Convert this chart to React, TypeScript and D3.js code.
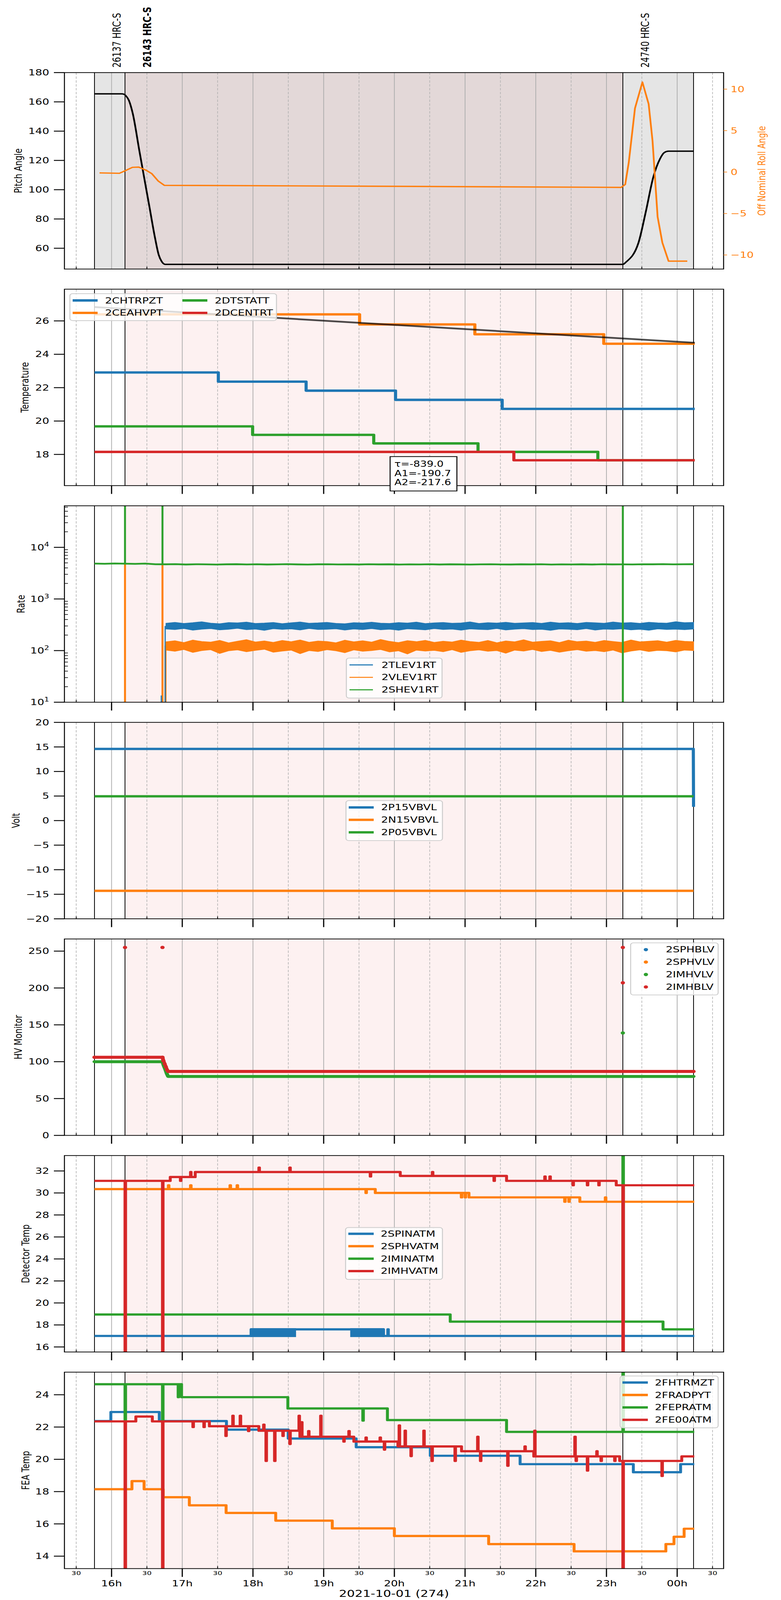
import * as d3 from "d3";

type Pt = [number, number];

// time values are minutes after 2021-10-01 00:00 (1440 = next midnight)
const xStart = 920;
const xEnd = 1479.4;
const obsStarts = [945.5, 971.4, 1393.9];
const obsEnd = 1453.9;
const obsNames = ["26137 HRC-S", "26143 HRC-S", "24740 HRC-S"];
const obsBold = [false, true, false];

// panel 1: pitch and off nominal roll
const pitch: Pt[] = [
  [945.5, 165.5], [968.7, 165.5], [970.5, 165.2], [972.0, 164.3], [974.7, 161], [978.0, 152],
  [983.6, 126.5], [992.2, 88], [996.9, 67], [1000.0, 55.5], [1002.5, 51], [1005.5, 49],
  [1393.9, 49], [1396.5, 50.5], [1407.1, 63.6], [1413.4, 85], [1419.7, 108.5], [1425.4, 121],
  [1429.0, 125.3], [1432.7, 126.3], [1453.9, 126.3],
];
const roll: Pt[] = [
  [949.8, -0.1], [966.7, -0.15], [971.4, 0.15], [977.7, 0.57], [983.0, 0.6], [988.9, 0.25],
  [994.2, -0.2], [999.5, -1.07], [1004.8, -1.6], [1200, -1.72], [1392.5, -1.85], [1395.9, -1.5],
  [1398.9, 1.14], [1404.2, 7.7], [1410.5, 10.85], [1415.8, 8.2], [1419.1, 3.75], [1423.4, -5.4],
  [1427.4, -8.5], [1432.7, -10.75], [1448.6, -10.75],
];

// panel 2: temperatures
const tempNames = ["2CHTRPZT", "2CEAHVPT", "2DTSTATT", "2DCENTRT"];
const tempBlue: Pt[] = [[945.5, 22.91], [1050.6, 22.36], [1125.1, 21.82], [1201.0, 21.27], [1291.5, 20.73]];
const tempOrange: Pt[] = [[945.5, 26.39], [1170.5, 25.79], [1268.3, 25.2], [1377.7, 24.63]];
const tempGreen: Pt[] = [[945.5, 19.68], [1079.7, 19.17], [1182.5, 18.66], [1271.0, 18.15], [1372.7, 17.65]];
const tempRed: Pt[] = [[945.5, 18.15], [1301.4, 17.65]];
const tempFit: Pt[] = [[945.5, 26.83], [1454.9, 24.69]];
const fitText = ["τ=-839.0", "A1=-190.7", "A2=-217.6"];

// panel 3: rates
const rateNames = ["2TLEV1RT", "2VLEV1RT", "2SHEV1RT"];
const rateBandStart = 1006.2;
const blueHi = [338, 352, 335, 347, 362, 340, 331, 349, 344, 356, 336, 341, 350, 333, 346, 358, 339, 344, 352, 337, 331, 348, 343, 355, 340, 336, 349, 342, 357, 334, 345, 351, 338, 343, 360, 336, 347, 341, 353, 339, 344, 350, 337, 356, 341, 348, 335, 352, 346, 339, 358, 343, 349, 337, 354, 345, 340, 363, 347, 352];
const blueLo = [262, 255, 268, 249, 260, 266, 252, 258, 270, 254, 261, 247, 265, 257, 263, 251, 268, 256, 259, 264, 250, 262, 255, 267, 253, 260, 248, 264, 258, 252, 266, 256, 261, 249, 263, 257, 254, 268, 251, 260, 265, 255, 258, 247, 262, 259, 253, 266, 250, 261, 257, 264, 252, 259, 248, 263, 256, 260, 254, 262];
const orangeHi = [148, 155, 143, 160, 150, 146, 158, 141, 152, 163, 147, 154, 144, 157, 149, 161, 145, 153, 150, 142, 159, 148, 155, 146, 164, 151, 143, 156, 149, 158, 144, 152, 147, 160, 150, 145, 157, 142, 154, 148, 162, 146, 151, 155, 143, 159, 149, 153, 145, 157, 150, 144, 161, 148, 152, 156, 146, 158, 151, 149];
const orangeLo = [102, 97, 105, 92, 100, 104, 88, 99, 103, 95, 101, 106, 93, 98, 102, 87, 100, 96, 104, 99, 91, 103, 97, 100, 105, 94, 99, 86, 102, 98, 101, 95, 104, 92, 99, 103, 97, 100, 89, 102, 98, 105, 96, 101, 93, 99, 104, 97, 100, 95, 102, 90, 98, 103, 96, 101, 99, 94, 102, 100];
const greenRate = [4850, 4800, 4870, 4820, 4790, 4840, 4700, 4690, 4720, 4650, 4700, 4680, 4640, 4690, 4710, 4660, 4700, 4650, 4680, 4720, 4670, 4640, 4690, 4700, 4660, 4680, 4650, 4700, 4670, 4690, 4640, 4680, 4660, 4700, 4650, 4690, 4670, 4640, 4680, 4700, 4660, 4650, 4690, 4670, 4700, 4640, 4680, 4660, 4690, 4650, 4700, 4670, 4680, 4660, 4700, 4690, 4720, 4680, 4700, 4710];
// vertical excursions: [time, from, to]
const greenRateSpikes = [[971.4, 4700, 1e6], [1003.2, 4700, 1e6], [1393.9, 1, 1e6]];
const orangeRateDrops = [[971.4, 4700, 1], [1003.2, 4700, 1], [1005.8, 1, 125]];
const blueRateRise = [[1002.2, 1, 13.5], [1005.5, 1, 300]];

// panel 4: volts
const voltNames = ["2P15VBVL", "2N15VBVL", "2P05VBVL"];
const voltP15: Pt[] = [[945.5, 14.6], [1453.7, 14.6], [1453.9, 2.8]];
const voltN15: Pt[] = [[945.5, -14.3], [1453.9, -14.3]];
const voltP05: Pt[] = [[945.5, 4.95], [1453.9, 4.95]];

// panel 5: HV monitor
const hvNames = ["2SPHBLV", "2SPHVLV", "2IMHVLV", "2IMHBLV"];
const hvRed: Pt[] = [[945.5, 106], [1003.2, 106], [1004.0, 101], [1005.0, 97], [1006.0, 93], [1007.0, 89], [1008.0, 86.8], [1453.9, 86.8]];
const hvGreen: Pt[] = [[945.5, 100], [1003.2, 100], [1004.2, 95], [1005.5, 90], [1006.8, 84], [1008.0, 80], [1453.9, 80]];
const hvRedDots: Pt[] = [[971.4, 255], [1003.2, 255], [1393.9, 255], [1393.9, 207]];
const hvGreenDots: Pt[] = [[1393.9, 139]];

// panel 6: detector temps (levels + short excursions)
const detNames = ["2SPINATM", "2SPHVATM", "2IMINATM", "2IMHVATM"];
const detBlueLevels: Pt[] = [[945.5, 17.0], [1078.4, 17.6], [1190.8, 17.0]];
const detBlueSpikes: Pt[] = [[1194.4, 17.6]];
const detBlueBlocks = [[1078.4, 1115.9], [1163.2, 1190.8]];
const detOrangeLevels: Pt[] = [[945.5, 30.35], [1183.8, 30.0], [1263.3, 29.6], [1357.4, 29.2]];
const detOrangeSpikes: Pt[] = [[1008.2, 30.7], [1027.0, 30.7], [1060.5, 30.7], [1066.5, 30.7], [1175.8, 30.0], [1256.8, 29.6], [1260.0, 29.6], [1344.5, 29.2], [1348.0, 29.2], [1379.0, 29.6]];
const detGreenLevels: Pt[] = [[945.5, 18.95], [1247.4, 18.3], [1428.0, 17.6]];
const detGreenSpikes: Pt[] = [[1393.9, 40]];
const detRedLevels: Pt[] = [[945.5, 31.1], [1009.8, 31.45], [1031.0, 31.9], [1205.0, 31.55], [1295.2, 31.1], [1388.3, 30.7]];
const detRedSpikes: Pt[] = [[971.4, 0], [1003.2, 0], [1018.4, 31.1], [1027.0, 31.9], [1085.0, 32.3], [1111.2, 32.3], [1179.5, 31.5], [1232.2, 31.9], [1284.5, 31.1], [1327.6, 31.5], [1331.9, 31.5], [1351.5, 30.7], [1363.7, 30.7], [1373.4, 30.7], [1393.9, 0]];

// panel 7: FEA temps
const feaNames = ["2FHTRMZT", "2FRADPYT", "2FEPRATM", "2FE00ATM"];
const feaBlueLevels: Pt[] = [[945.5, 22.37], [959.4, 22.93], [1000.5, 22.37], [1057.5, 21.84], [1109.9, 21.29], [1167.6, 20.75], [1230.5, 20.22], [1306.7, 19.7], [1402.8, 19.2], [1442.9, 19.7]];
const feaOrangeLevels: Pt[] = [[945.5, 18.15], [977.3, 18.65], [987.6, 18.15], [1003.8, 17.65], [1026.0, 17.15], [1057.2, 16.68], [1099.3, 16.2], [1147.3, 15.72], [1200.0, 15.25], [1280.0, 14.75], [1352.5, 14.3], [1430.4, 14.75], [1437.3, 15.2], [1445.9, 15.7]];
const feaGreenLevels: Pt[] = [[945.5, 24.65], [1019.4, 23.85], [1109.6, 23.15], [1194.1, 22.43], [1295.2, 21.7]];
const feaGreenSpikes: Pt[] = [[971.4, 22.3], [1003.2, 22.3], [1016.5, 23.85], [1173.2, 22.4], [1393.9, 40]];
const feaRedLevels: Pt[] = [[945.5, 22.35], [980.6, 22.65], [994.6, 22.35], [1043.0, 22.05], [1085.0, 21.77], [1119.8, 21.4], [1165.6, 21.1], [1203.0, 20.8], [1257.0, 20.5], [1318.3, 20.18], [1391.2, 19.9], [1443.9, 20.18]];
const feaRedSpikes: Pt[] = [[971.4, 0], [1003.2, 0], [1029.0, 22.0], [1038.3, 22.0], [1056.9, 21.45], [1062.8, 22.7], [1069.1, 22.7], [1076.1, 21.75], [1089.0, 22.15], [1091.0, 19.9], [1098.3, 19.9], [1105.3, 21.45], [1111.2, 20.95], [1119.0, 22.7], [1121.2, 22.3], [1127.1, 21.75], [1137.4, 22.7], [1157.0, 21.1], [1161.3, 21.75], [1175.8, 21.35], [1187.8, 21.35], [1191.4, 20.6], [1204.0, 22.1], [1209.0, 21.77], [1214.0, 20.2], [1224.9, 21.77], [1231.8, 19.9], [1251.4, 19.9], [1270.6, 21.4], [1273.0, 19.9], [1296.1, 19.6], [1310.7, 20.8], [1319.0, 21.77], [1353.1, 21.4], [1354.1, 19.9], [1363.7, 19.3], [1371.7, 20.5], [1375.3, 19.9], [1386.9, 19.9], [1393.9, 0], [1427.0, 18.97]];

const xLabel = "2021-10-01 (274)";

// ---------- layout ----------
const L = 165;
const R = 1853;
const PH = 663;
const top = (i: number) => 245 + 731 * i;
const bot = (i: number) => top(i) + PH;
const C = { blue: "#1f77b4", orange: "#ff7f0e", green: "#2ca02c", red: "#d62728" };

const at = (m: number) => new Date(2021, 9, 1, 0, 0, 0, Math.round(m * 60000));
const x = d3.scaleTime().domain([at(xStart), at(xEnd)]).range([L, R]);
const px = (m: number) => x(at(m));
const hours = d3.timeHour.every(1)!.range(at(xStart), at(xEnd));
const halves = d3.timeMinute.every(30)!.range(at(xStart), at(xEnd)).filter((d) => d.getMinutes() === 30);

const fmt = (v: number) => (v < 0 ? "\u2212" + Math.abs(v) : String(v));

function withSpikes(levels: Pt[], spikes: Pt[], end: number): Pt[] {
  const base = (t: number) => {
    let v = levels[0][1];
    levels.forEach(([lt, lv]) => {
      if (lt <= t) v = lv;
    });
    return v;
  };
  const pts: Pt[] = levels.slice();
  spikes.forEach(([t, v]) => {
    pts.push([t, v]);
    pts.push([t + 0.5, base(t + 0.5)]);
  });
  pts.sort((a, b) => a[0] - b[0]);
  pts.push([end, base(end)]);
  return pts;
}

const linePath = (y: any, pts: Pt[], curve: any = d3.curveLinear) =>
  d3.line<Pt>().x((d) => px(d[0])).y((d) => y(d[1])).curve(curve)(pts) || "";

function Back({ i, gray }: { i: number; gray?: boolean }) {
  const t = top(i);
  return (
    <g>
      {gray ? (
        <>
          <rect x={px(obsStarts[0])} y={t} width={px(obsEnd) - px(obsStarts[0])} height={PH} fill="#e5e5e5" />
          <rect x={px(obsStarts[1])} y={t} width={px(obsStarts[2]) - px(obsStarts[1])} height={PH} fill="#e3d8d8" />
        </>
      ) : (
        <rect x={px(obsStarts[1])} y={t} width={px(obsStarts[2]) - px(obsStarts[1])} height={PH} fill="#fdf1f1" />
      )}
      {hours.map((h, k) => (
        <line key={"h" + k} x1={x(h)} x2={x(h)} y1={t} y2={t + PH} stroke="#b0b0b0" strokeWidth={2} />
      ))}
      {halves.map((h, k) => (
        <line key={"m" + k} x1={x(h)} x2={x(h)} y1={t} y2={t + PH} stroke="#b0b0b0" strokeWidth={1.6} strokeDasharray="8,5" />
      ))}
      {[...obsStarts, obsEnd].map((m, k) => (
        <line key={"o" + k} x1={px(m)} x2={px(m)} y1={t} y2={t + PH} stroke="black" strokeWidth={2} />
      ))}
    </g>
  );
}

function Axes(props: { i: number; y: any; ticks: number[]; label: string; labelX: number; major?: boolean; log?: boolean }) {
  const { i, y, ticks, label, labelX, major = true, log = false } = props;
  const t = top(i);
  const b = bot(i);
  const minorY = log ? y.ticks().filter((v: number) => Math.abs(Math.log10(v) - Math.round(Math.log10(v))) > 1e-6) : [];
  return (
    <g>
      <rect x={L} y={t} width={R - L} height={PH} fill="none" stroke="black" strokeWidth={2.5} />
      {ticks.map((v) => (
        <g key={v}>
          <line x1={L - 27} x2={L} y1={y(v)} y2={y(v)} stroke="black" strokeWidth={3} />
          {log ? (
            <text x={L - 39} y={y(v)} dy="0.35em" textAnchor="end" fontSize={28}>
              10<tspan dy="-12" fontSize={20}>{Math.round(Math.log10(v))}</tspan>
            </text>
          ) : (
            <text x={L - 39} y={y(v)} dy="0.35em" textAnchor="end" fontSize={28}>
              {fmt(v)}
            </text>
          )}
        </g>
      ))}
      {minorY.map((v: number, k: number) => (
        <line key={"n" + k} x1={L} x2={L + 9} y1={y(v)} y2={y(v)} stroke="black" strokeWidth={2} />
      ))}
      <text transform={`translate(${labelX},${(t + b) / 2}) rotate(-90)`} textAnchor="middle" dy="0.35em" fontSize={27}>
        {label}
      </text>
      {halves.map((h, k) => (
        <line key={"m" + k} x1={x(h)} x2={x(h)} y1={b} y2={b - 8} stroke="black" strokeWidth={2} />
      ))}
      {major &&
        hours.map((h, k) => <line key={"h" + k} x1={x(h)} x2={x(h)} y1={b} y2={b + 28} stroke="black" strokeWidth={3} />)}
    </g>
  );
}

type LegItem = { name: string; color: string; hx: number; ry: number };
function Legend(props: { x: number; y: number; w: number; h: number; items: LegItem[]; hlen: number; tgap: number; lw: number; dot?: boolean }) {
  const { items, hlen, tgap, lw, dot } = props;
  return (
    <g>
      <rect x={props.x} y={props.y} width={props.w} height={props.h} rx={7} fill="white" fillOpacity={0.8} stroke="#cccccc" strokeWidth={2.5} />
      {items.map((it) => (
        <g key={it.name}>
          {dot ? (
            <circle cx={it.hx + hlen / 2} cy={it.ry} r={5.5} fill={it.color} />
          ) : (
            <line x1={it.hx} x2={it.hx + hlen} y1={it.ry} y2={it.ry} stroke={it.color} strokeWidth={lw} />
          )}
          <text x={it.hx + hlen + tgap} y={it.ry} dy="0.35em" fontSize={28}>
            {it.name}
          </text>
        </g>
      ))}
    </g>
  );
}

function Series({ i, y, pts, color, w, curve }: { i: number; y: any; pts: Pt[]; color: string; w: number; curve?: any }) {
  return (
    <path d={linePath(y, pts, curve)} fill="none" stroke={color} strokeWidth={w} strokeLinejoin="round" clipPath={`url(#clip${i})`} />
  );
}

export default function App() {
  // scales per panel
  const y1 = d3.scaleLinear().domain([45.8, 180]).range([bot(0), top(0)]);
  const r1 = d3.scaleLinear().domain([-11.7, 12.0]).range([bot(0), top(0)]);
  const y2 = d3.scaleLinear().domain([16.13, 27.9]).range([bot(1), top(1)]);
  const y3 = d3.scaleLog().domain([10, 63800]).range([bot(2), top(2)]);
  const y4 = d3.scaleLinear().domain([-20, 20]).range([bot(3), top(3)]);
  const y5 = d3.scaleLinear().domain([0, 266.5]).range([bot(4), top(4)]);
  const y6 = d3.scaleLinear().domain([15.54, 33.4]).range([bot(5), top(5)]);
  const y7 = d3.scaleLinear().domain([13.23, 25.4]).range([bot(6), top(6)]);

  const bandT = (k: number, n: number) => rateBandStart + (k * (obsEnd - rateBandStart)) / (n - 1);
  const greenT = (k: number, n: number) => obsStarts[0] + (k * (obsEnd - obsStarts[0])) / (n - 1);
  const band = (hi: number[], lo: number[]) =>
    d3
      .area<number>()
      .x((_, k) => px(bandT(k, hi.length)))
      .y0((_, k) => y3(lo[k]))
      .y1((d) => y3(d))(hi) || "";
  const greenPts: Pt[] = greenRate.map((v, k) => [greenT(k, greenRate.length), v]);
  const step = d3.curveStepAfter;
  const detEnd = 1454.5;

  // the browser viewport is shorter than the figure, so the 2000x5400 drawing is fitted to it
  return (
    <>
      <style>{"html,body{margin:0;padding:0;background:white;overflow:hidden}"}</style>
      <svg
        viewBox="0 0 2000 5400"
        preserveAspectRatio="none"
        style={{ display: "block", width: "100vw", height: "100vh" }}
        fontFamily="DejaVu Sans, sans-serif"
      >
        <rect width={2000} height={5400} fill="white" />
        <defs>
          {[0, 1, 2, 3, 4, 5, 6].map((i) => (
            <clipPath key={i} id={`clip${i}`}>
              <rect x={L} y={top(i)} width={R - L} height={PH} />
            </clipPath>
          ))}
        </defs>

        {/* ---- panel 1 ---- */}
        <Back i={0} gray />
        <Series i={0} y={y1} pts={pitch} color="black" w={4.5} curve={d3.curveMonotoneX} />
        <Series i={0} y={r1} pts={roll} color={C.orange} w={4.5} />
        {obsStarts.map((m, k) => (
          <text key={k} transform={`translate(${px(m) + 57},228) rotate(-90)`} dominantBaseline="central" fontSize={28} fontWeight={obsBold[k] ? "bold" : "normal"}>
            {obsNames[k]}
          </text>
        ))}
        <Axes i={0} y={y1} ticks={[60, 80, 100, 120, 140, 160, 180]} label="Pitch Angle" labelX={47} major={false} />
        {[-10, -5, 0, 5, 10].map((v) => (
          <g key={v}>
            <line x1={R} x2={R + 9} y1={r1(v)} y2={r1(v)} stroke={C.orange} strokeWidth={2} />
            <text x={R + 18} y={r1(v)} dy="0.35em" fontSize={28} fill={C.orange}>
              {fmt(v)}
            </text>
          </g>
        ))}
        <text transform={`translate(1951,${(top(0) + bot(0)) / 2}) rotate(-90)`} textAnchor="middle" dy="0.35em" fontSize={27} fill={C.orange}>
          Off Nominal Roll Angle
        </text>

        {/* ---- panel 2 ---- */}
        <Back i={1} />
        <Series i={1} y={y2} pts={[...tempBlue, [1454.9, tempBlue[tempBlue.length - 1][1]]]} color={C.blue} w={8} curve={step} />
        <Series i={1} y={y2} pts={[...tempOrange, [1454.9, tempOrange[tempOrange.length - 1][1]]]} color={C.orange} w={8} curve={step} />
        <Series i={1} y={y2} pts={[...tempGreen, [1454.9, tempGreen[tempGreen.length - 1][1]]]} color={C.green} w={8} curve={step} />
        <Series i={1} y={y2} pts={[...tempRed, [1454.9, tempRed[tempRed.length - 1][1]]]} color={C.red} w={8} curve={step} />
        <path d={linePath(y2, tempFit)} stroke="black" strokeOpacity={0.7} strokeWidth={6} fill="none" />
        <Legend
          x={179} y={991} w={529} h={91} hlen={64} tgap={19} lw={8}
          items={[
            { name: tempNames[0], color: C.blue, hx: 186, ry: 1014 },
            { name: tempNames[1], color: C.orange, hx: 186, ry: 1056 },
            { name: tempNames[2], color: C.green, hx: 467, ry: 1014 },
            { name: tempNames[3], color: C.red, hx: 467, ry: 1056 },
          ]}
        />
        <Axes i={1} y={y2} ticks={[18, 20, 22, 24, 26]} label="Temperature" labelX={64} />
        <rect x={999} y={1541} width={171} height={116} fill="white" stroke="black" strokeWidth={2.5} />
        {fitText.map((s, k) => (
          <text key={k} x={1010} y={1566 + 31 * k} dy="0.35em" fontSize={27}>
            {s}
          </text>
        ))}

        {/* ---- panel 3 ---- */}
        <Back i={2} />
        <g clipPath="url(#clip2)">
          {orangeRateDrops.map(([t, a, b], k) => (
            <line key={"od" + k} x1={px(t)} x2={px(t)} y1={y3(a)} y2={y3(b)} stroke={C.orange} strokeWidth={5} />
          ))}
          {blueRateRise.map(([t, a, b], k) => (
            <line key={"br" + k} x1={px(t)} x2={px(t)} y1={y3(a)} y2={y3(b)} stroke={C.blue} strokeWidth={3} />
          ))}
          <path d={band(blueHi, blueLo)} fill={C.blue} stroke={C.blue} strokeWidth={2} />
          <path d={band(orangeHi, orangeLo)} fill={C.orange} stroke={C.orange} strokeWidth={2} />
          <path d={linePath(y3, greenPts)} fill="none" stroke={C.green} strokeWidth={6} />
          {greenRateSpikes.map(([t, a, b], k) => (
            <line key={"gs" + k} x1={px(t)} x2={px(t)} y1={y3(a)} y2={y3(b)} stroke={C.green} strokeWidth={5} />
          ))}
        </g>
        <Legend
          x={887} y={2221} w={245} h={135} hlen={60} tgap={22} lw={3.5}
          items={rateNames.map((n, k) => ({ name: n, color: [C.blue, C.orange, C.green][k], hx: 895, ry: 2244 + 42 * k }))}
        />
        <Axes i={2} y={y3} ticks={[10, 100, 1000, 10000]} label="Rate" labelX={54} log />

        {/* ---- panel 4 ---- */}
        <Back i={3} />
        <Series i={3} y={y4} pts={voltP15} color={C.blue} w={8} />
        <Series i={3} y={y4} pts={voltN15} color={C.orange} w={8} />
        <Series i={3} y={y4} pts={voltP05} color={C.green} w={8} />
        <Legend
          x={886} y={2702} w={247} h={135} hlen={64} tgap={19} lw={8}
          items={voltNames.map((n, k) => ({ name: n, color: [C.blue, C.orange, C.green][k], hx: 893, ry: 2725 + 42 * k }))}
        />
        <Axes i={3} y={y4} ticks={[-20, -15, -10, -5, 0, 5, 10, 15, 20]} label="Volt" labelX={41} />

        {/* ---- panel 5 ---- */}
        <Back i={4} />
        <g clipPath="url(#clip4)">
          <path d={linePath(y5, hvRed)} fill="none" stroke={C.red} strokeWidth={10} strokeLinecap="round" strokeLinejoin="round" />
          <path d={linePath(y5, hvGreen)} fill="none" stroke={C.green} strokeWidth={10} strokeLinecap="round" strokeLinejoin="round" />
          {hvRed.map((d, k) => (
            <circle key={"r" + k} cx={px(d[0])} cy={y5(d[1])} r={5.5} fill={C.red} />
          ))}
          {hvRedDots.map((d, k) => (
            <circle key={"rd" + k} cx={px(d[0])} cy={y5(d[1])} r={5.5} fill={C.red} />
          ))}
          {hvGreenDots.map((d, k) => (
            <circle key={"gd" + k} cx={px(d[0])} cy={y5(d[1])} r={5.5} fill={C.green} />
          ))}
        </g>
        <Legend
          x={1615} y={3182} w={224} h={176} hlen={64} tgap={19} lw={0} dot
          items={hvNames.map((n, k) => ({ name: n, color: [C.blue, C.orange, C.green, C.red][k], hx: 1622, ry: 3205 + 42 * k }))}
        />
        <Axes i={4} y={y5} ticks={[0, 50, 100, 150, 200, 250]} label="HV Monitor" labelX={47} />

        {/* ---- panel 6 ---- */}
        <Back i={5} />
        <Series i={5} y={y6} pts={withSpikes(detBlueLevels, detBlueSpikes, detEnd)} color={C.blue} w={7.5} curve={step} />
        {detBlueBlocks.map(([a, b], k) => (
          <rect key={k} x={px(a) - 2} y={y6(17.6) - 3.75} width={px(b) - px(a) + 4} height={y6(17.0) - y6(17.6) + 7.5} fill={C.blue} />
        ))}
        <Series i={5} y={y6} pts={withSpikes(detOrangeLevels, detOrangeSpikes, detEnd)} color={C.orange} w={7.5} curve={step} />
        <Series i={5} y={y6} pts={withSpikes(detGreenLevels, detGreenSpikes, detEnd)} color={C.green} w={7.5} curve={step} />
        <Series i={5} y={y6} pts={withSpikes(detRedLevels, detRedSpikes, detEnd)} color={C.red} w={7.5} curve={step} />
        <Legend
          x={885} y={4143} w={248} h={175} hlen={65} tgap={18} lw={8}
          items={detNames.map((n, k) => ({ name: n, color: [C.blue, C.orange, C.green, C.red][k], hx: 892, ry: 4164 + 42 * k }))}
        />
        <Axes i={5} y={y6} ticks={[16, 18, 20, 22, 24, 26, 28, 30, 32]} label="Detector Temp" labelX={66} />

        {/* ---- panel 7 ---- */}
        <Back i={6} />
        <Series i={6} y={y7} pts={withSpikes(feaBlueLevels, [], detEnd)} color={C.blue} w={7.5} curve={step} />
        <Series i={6} y={y7} pts={withSpikes(feaOrangeLevels, [], detEnd)} color={C.orange} w={7.5} curve={step} />
        <Series i={6} y={y7} pts={withSpikes(feaGreenLevels, feaGreenSpikes, detEnd)} color={C.green} w={7.5} curve={step} />
        <Series i={6} y={y7} pts={withSpikes(feaRedLevels, feaRedSpikes, detEnd)} color={C.red} w={7.5} curve={step} />
        <Legend
          x={1588} y={4644} w={251} h={175} hlen={65} tgap={18} lw={8}
          items={feaNames.map((n, k) => ({ name: n, color: [C.blue, C.orange, C.green, C.red][k], hx: 1594, ry: 4666 + 42 * k }))}
        />
        <Axes i={6} y={y7} ticks={[14, 16, 18, 20, 22, 24]} label="FEA Temp" labelX={66} />

        {/* ---- x axis labels ---- */}
        {halves.map((h, k) => (
          <text key={"hl" + k} x={x(h)} y={bot(6) + 15} dy="0.35em" textAnchor="middle" fontSize={19}>
            30
          </text>
        ))}
        {hours.map((h, k) => (
          <text key={"hh" + k} x={x(h)} y={bot(6) + 50} dy="0.35em" textAnchor="middle" fontSize={28}>
            {d3.timeFormat("%Hh")(h)}
          </text>
        ))}
        <text x={(L + R) / 2} y={5390} textAnchor="middle" fontSize={32}>
          {xLabel}
        </text>
      </svg>
    </>
  );
}
